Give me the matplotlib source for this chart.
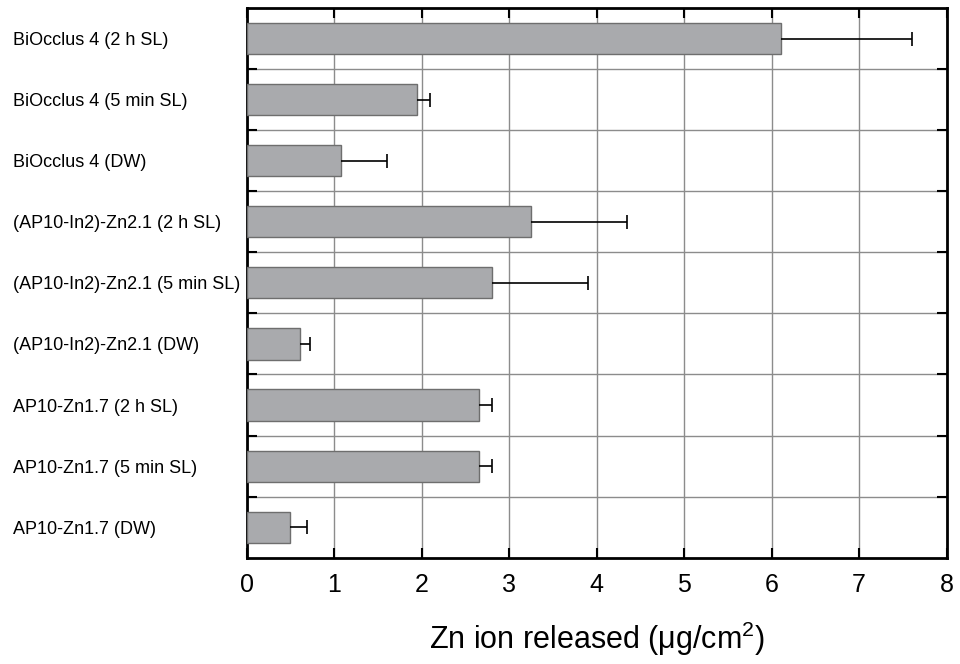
import numpy as np
import matplotlib.pyplot as plt
from matplotlib.ticker import FixedLocator

plt.rcParams['font.family'] = ['Liberation Sans', 'DejaVu Sans']
plt.rcParams['mathtext.fontset'] = 'custom'
plt.rcParams['mathtext.rm'] = 'Liberation Sans'
plt.rcParams['mathtext.default'] = 'regular'

labels = ['BiOcclus 4 (2 h SL)', 'BiOcclus 4 (5 min SL)', 'BiOcclus 4 (DW)',
          '(AP10-In2)-Zn2.1 (2 h SL)', '(AP10-In2)-Zn2.1 (5 min SL)',
          '(AP10-In2)-Zn2.1 (DW)', 'AP10-Zn1.7 (2 h SL)',
          'AP10-Zn1.7 (5 min SL)', 'AP10-Zn1.7 (DW)']
values = [6.11, 1.95, 1.08, 3.25, 2.80, 0.61, 2.65, 2.65, 0.50]
errors = [1.50, 0.15, 0.52, 1.10, 1.10, 0.11, 0.15, 0.15, 0.19]

fig = plt.figure(figsize=(9.6, 6.64), dpi=100)
ax = fig.add_axes([0.257, 0.160, 0.729, 0.828])

y = np.arange(len(labels))
vals = np.array(values)
errs = np.array(errors)
ax.barh(y, vals, height=0.51, color='#a9aaad', edgecolor='#6e6e6e',
        linewidth=1.0, zorder=3)
# one-sided error bars: line from bar end, cap only at the far end
ax.hlines(y, vals, vals + errs, color='black', linewidth=1.2, zorder=4)
ax.plot(vals + errs, y, linestyle='none', marker='|', markersize=10,
        markeredgewidth=1.2, color='black', zorder=4)

ax.set_xlim(0, 8)
ax.set_ylim(len(labels) - 0.5, -0.5)
ax.set_xticks(range(9))
ax.set_yticks(y)
ax.set_yticklabels(labels, ha='left', fontsize=13)
ax.yaxis.set_minor_locator(FixedLocator(np.arange(0.5, len(labels) - 1, 1)))

ax.tick_params(axis='y', which='major', length=0, pad=234 * 72 / 100)
ax.tick_params(axis='y', which='minor', direction='in', length=7, width=1.5,
               left=True, right=True)
ax.tick_params(axis='x', which='major', direction='in', length=7, width=1.5,
               top=True, bottom=True, labelsize=18, pad=11)

ax.grid(True, axis='x', which='major', color='#8c8c8c', linewidth=1, zorder=0)
ax.grid(True, axis='y', which='minor', color='#8c8c8c', linewidth=1, zorder=0)
ax.set_axisbelow(True)

for s in ax.spines.values():
    s.set_linewidth(2)

ax.set_xlabel('Zn ion released (μg/cm$^{2}$)', fontsize=22, labelpad=16)

fig.savefig('out.png', dpi=100)
